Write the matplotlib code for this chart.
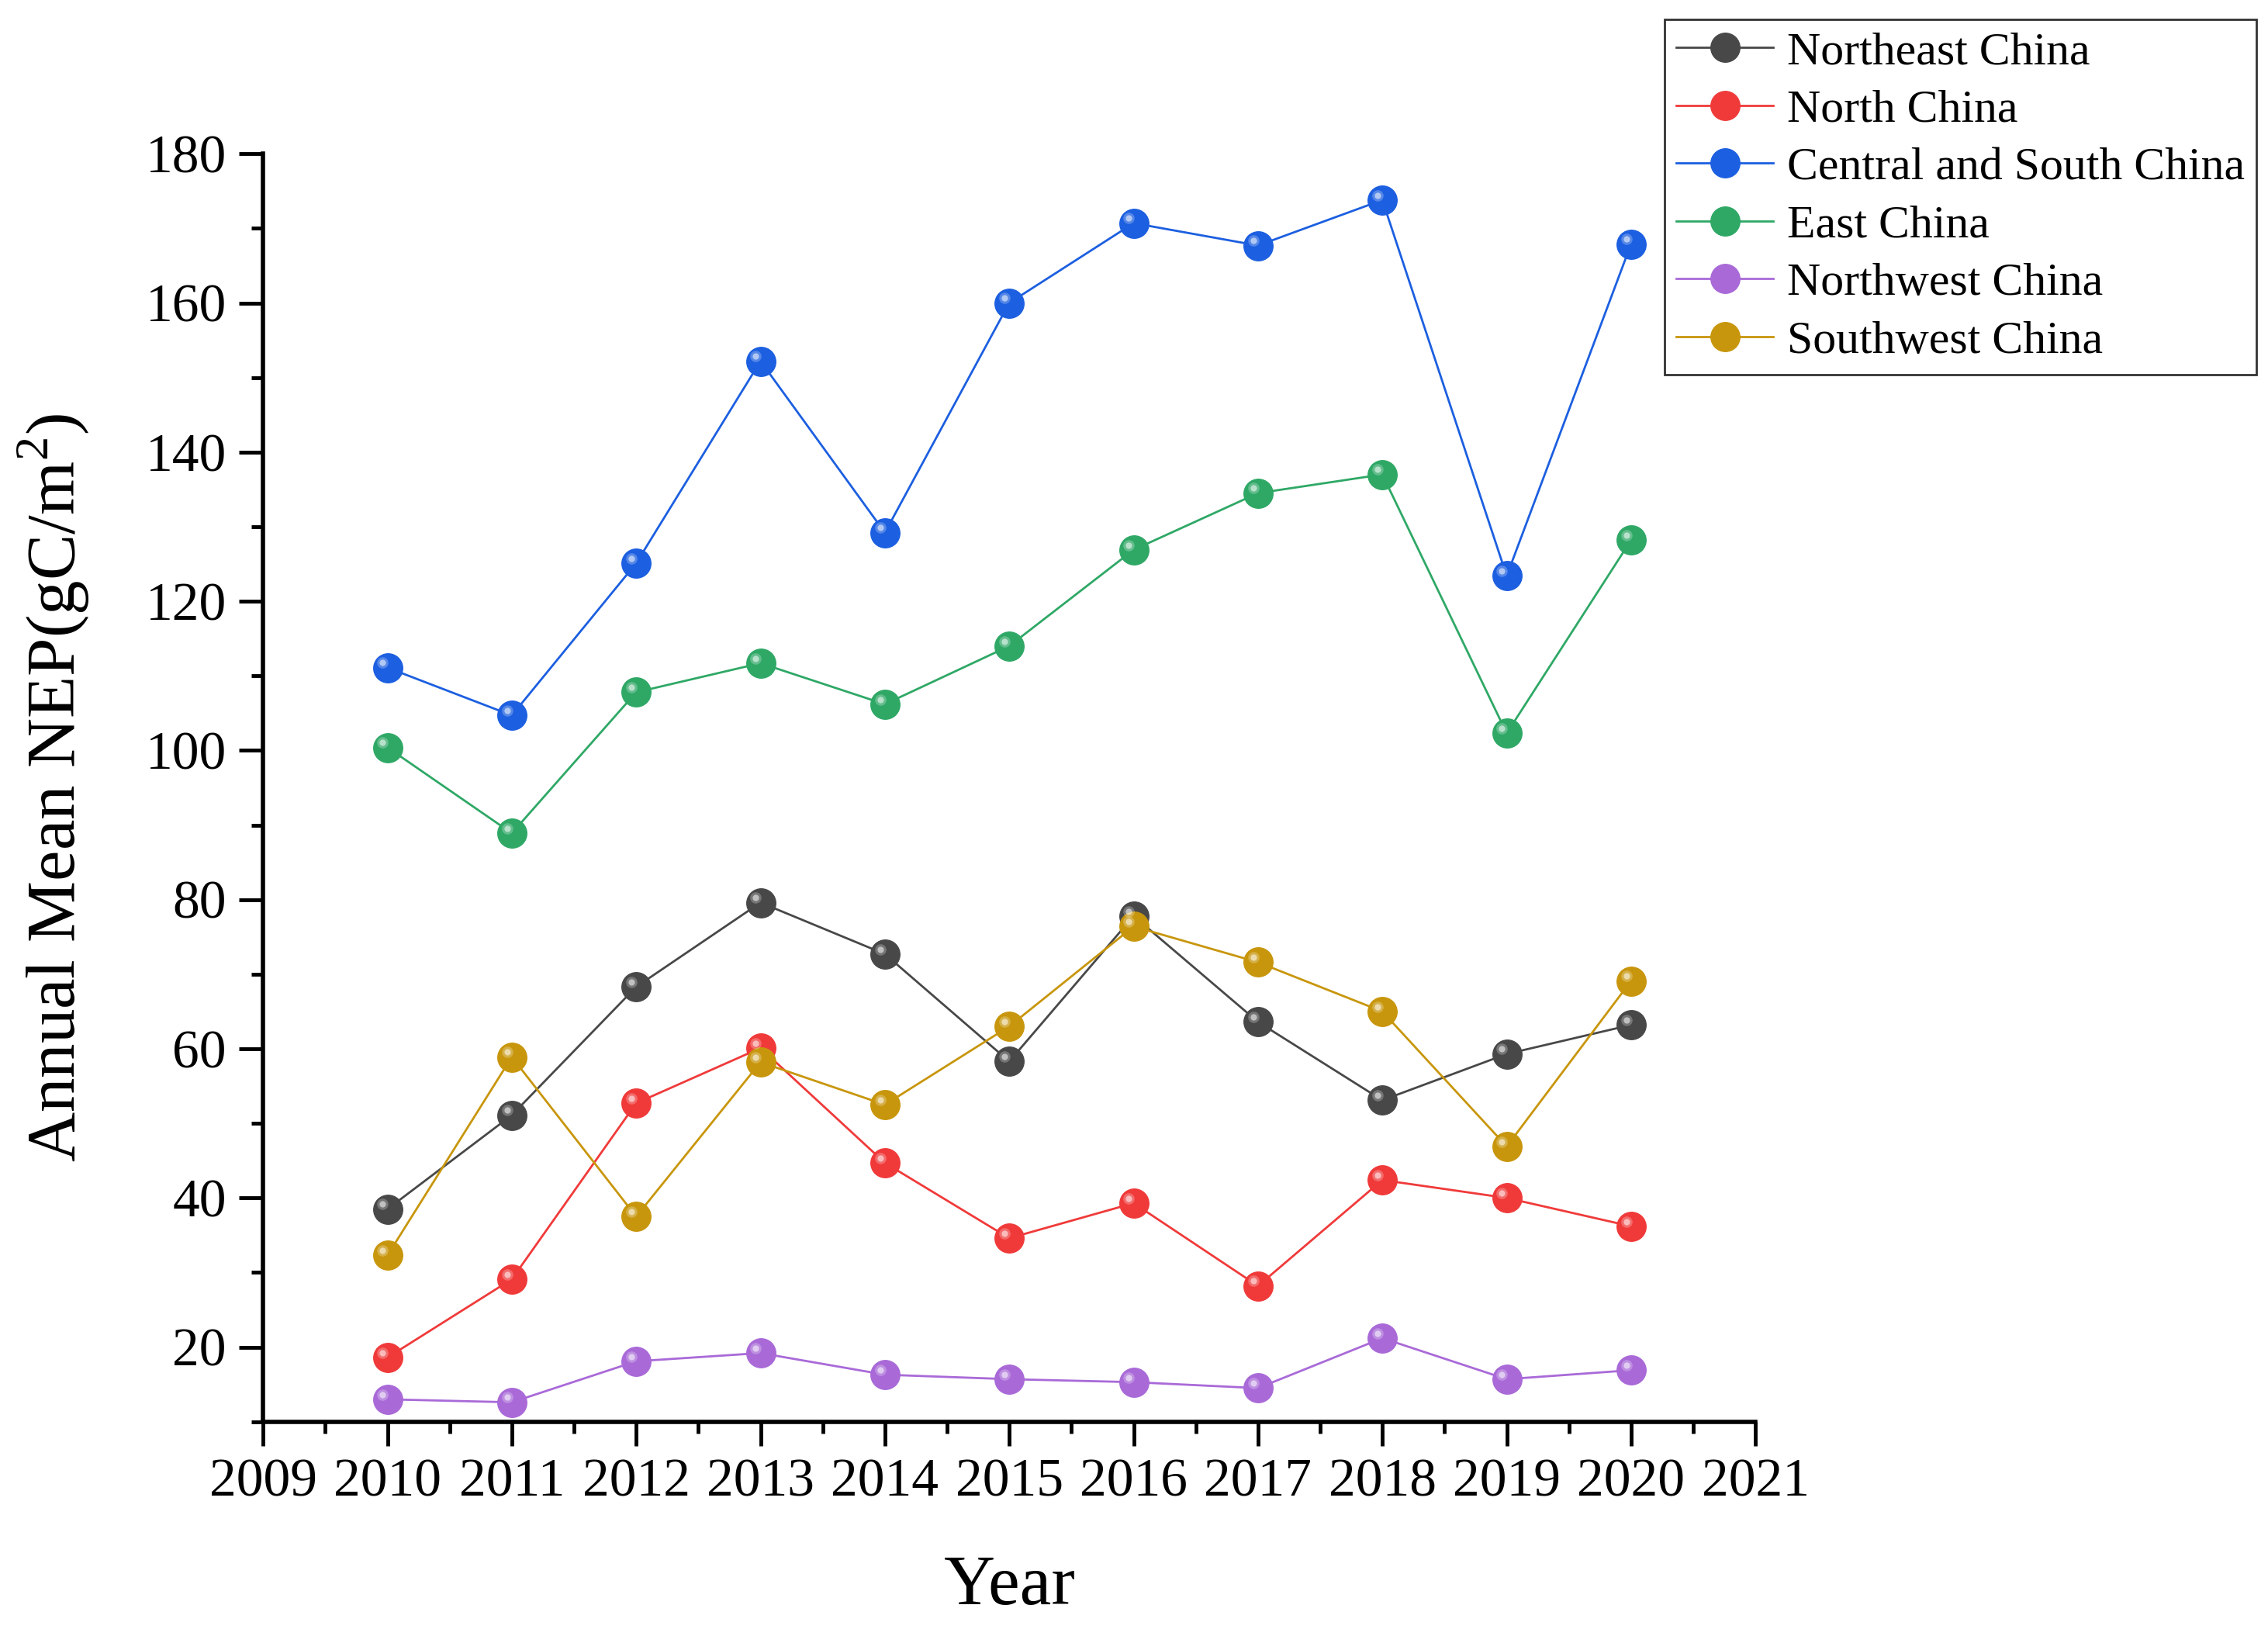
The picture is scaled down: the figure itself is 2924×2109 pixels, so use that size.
import numpy as np
import matplotlib
matplotlib.use('Agg')
import matplotlib.pyplot as plt
from matplotlib.ticker import MultipleLocator
from matplotlib.transforms import offset_copy

plt.rcParams['font.family'] = ['Liberation Serif', 'DejaVu Serif']
plt.rcParams['mathtext.fontset'] = 'custom'
plt.rcParams['mathtext.rm'] = 'Liberation Serif'

years = np.arange(2010, 2021)
northeast = [38.5, 51.1, 68.3, 79.6, 72.7, 58.3, 77.8, 63.6, 53.1, 59.3, 63.2]
north = [18.6, 29.1, 52.7, 60.1, 44.7, 34.6, 39.3, 28.2, 42.4, 40.0, 36.2]
central_south = [111.1, 104.7, 125.1, 152.2, 129.2, 160.0, 170.7, 167.7, 173.8, 123.4, 167.9]
east = [100.4, 88.9, 107.8, 111.7, 106.2, 114.0, 126.9, 134.5, 137.0, 102.3, 128.2]
northwest = [13.0, 12.6, 18.1, 19.2, 16.3, 15.7, 15.3, 14.5, 21.2, 15.7, 16.9]
southwest = [32.3, 58.9, 37.5, 58.2, 52.5, 63.0, 76.4, 71.6, 65.0, 46.9, 69.1]

series = [
    ('Northeast China', northeast, '#484848'),
    ('North China', north, '#f03a3a'),
    ('Central and South China', central_south, '#1c5fe0'),
    ('East China', east, '#2fa866'),
    ('Northwest China', northwest, '#a96ad8'),
    ('Southwest China', southwest, '#c8960c'),
]

fig = plt.figure(figsize=(29.24, 21.09), dpi=100)
ax = fig.add_axes([0.116, 0.131, 0.658, 0.775])

# little white spot on each marker to look like the shaded balls
shine = offset_copy(ax.transData, fig=fig, x=-4.5, y=4.5, units='points')

for name, vals, col in series:
    ax.plot(years, vals, '-', color=col, lw=2, marker='o', ms=27,
            mec=col, mfc=col, label=name)
    ax.scatter(years, vals, s=35, color='white', alpha=0.55, lw=0,
               transform=shine, zorder=5)
    ax.scatter(years, vals, s=110, color='white', alpha=0.25, lw=0,
               transform=shine, zorder=5)

ax.set_xlim(2009, 2021)
ax.set_ylim(10, 180)
ax.xaxis.set_major_locator(MultipleLocator(1))
ax.xaxis.set_minor_locator(MultipleLocator(0.5))
ax.yaxis.set_major_locator(MultipleLocator(20))
ax.yaxis.set_minor_locator(MultipleLocator(10))
ax.set_yticks(np.arange(20, 181, 20))

for s in ['top', 'right']:
    ax.spines[s].set_visible(False)
for s in ['left', 'bottom']:
    ax.spines[s].set_linewidth(4)

ax.tick_params(which='major', direction='out', length=22, width=3.5,
               labelsize=50, pad=12)
ax.tick_params(which='minor', direction='out', length=11, width=3.5)

ax.set_xlabel('Year', fontsize=66)
ax.set_ylabel(r'Annual Mean NEP(gC/m$^{2}$)', fontsize=64)
ax.xaxis.set_label_coords(0.5, -0.105)
ax.yaxis.set_label_coords(-0.115, 0.5)

leg = fig.legend(loc='upper right', bbox_to_anchor=(0.995, 0.988),
                 fontsize=43, frameon=True, fancybox=False,
                 handlelength=2.1, handletextpad=0.3, labelspacing=0.33,
                 borderpad=0.25, borderaxespad=0)
leg.get_frame().set_edgecolor('black')
leg.get_frame().set_linewidth(2)

plt.savefig('out.png', dpi=100)
